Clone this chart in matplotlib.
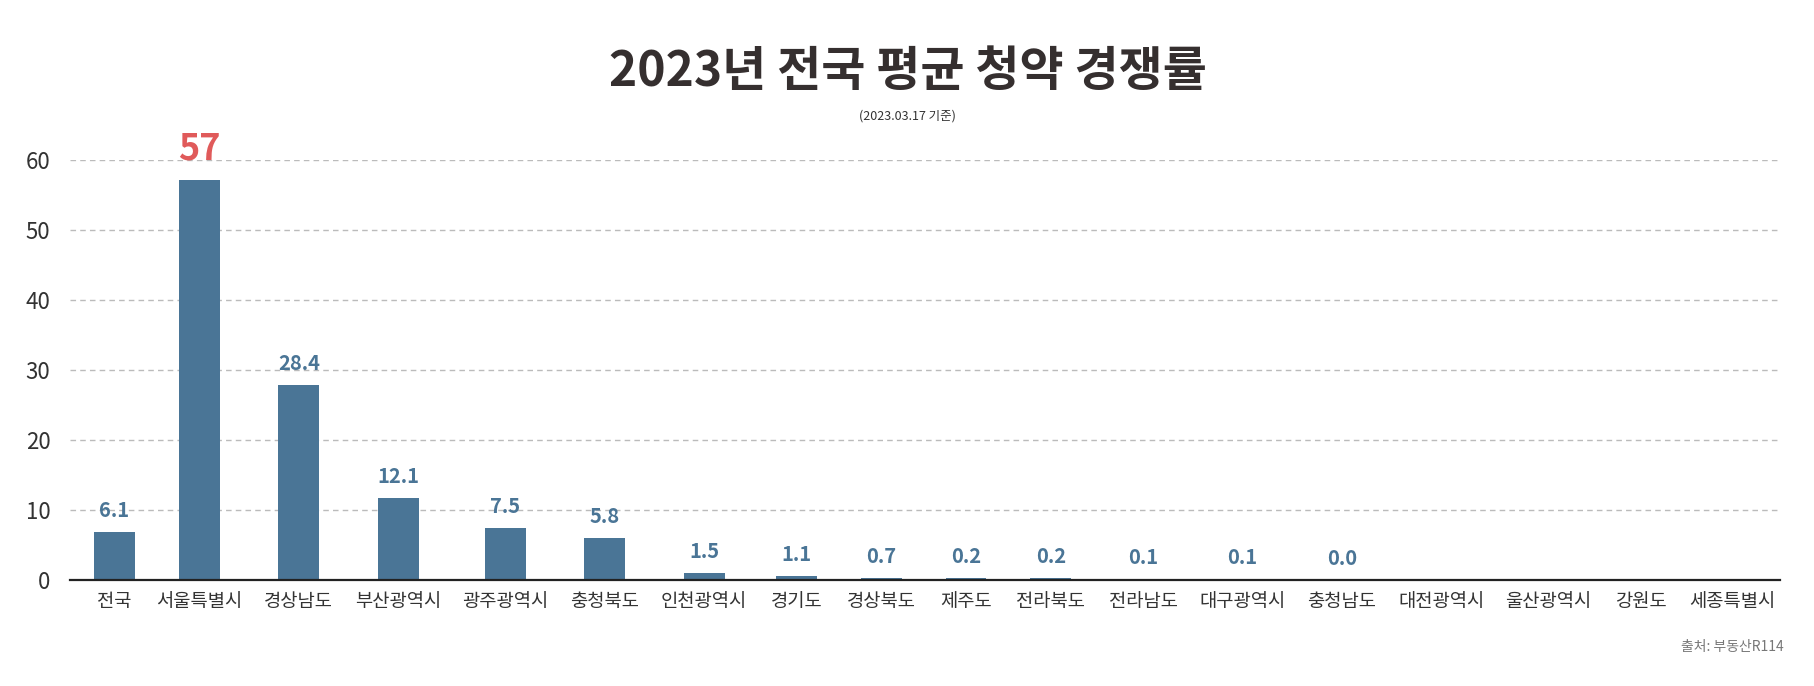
import matplotlib
matplotlib.use("Agg")
import matplotlib.pyplot as plt
import numpy as np

plt.rcParams['font.family'] = ['Noto Sans CJK KR', 'DejaVu Sans']

regions = ["전국", "서울특별시", "경상남도", "부산광역시", "광주광역시", "충청북도",
           "인천광역시", "경기도", "경상북도", "제주도", "전라북도", "전라남도",
           "대구광역시", "충청남도", "대전광역시", "울산광역시", "강원도", "세종특별시"]
bar_heights = [6.9, 57.2, 27.9, 11.7, 7.4, 6.0, 1.0, 0.55, 0.3, 0.3, 0.3, 0.15,
               0.1, 0.0, 0.0, 0.0, 0.0, 0.0]
value_labels = ["6.1", "57", "28.4", "12.1", "7.5", "5.8", "1.5", "1.1", "0.7",
                "0.2", "0.2", "0.1", "0.1", "0.0", "", "", "", ""]
highlight = "서울특별시"
y_ticks = [0, 10, 20, 30, 40, 50, 60]

title = "2023년 전국 평균 청약 경쟁률"
subtitle = "(2023.03.17 기준)"
source = "출처: 부동산R114"

BAR = "#4a7596"
RED = "#e05a5a"
TXT = "#333333"

# category positions: labels laid out with equal gaps (width ~ character count)
gap = 2.28
lens = np.array([len(r) for r in regions], dtype=float)
pos = np.concatenate([[0.0], np.cumsum(gap + (lens[:-1] + lens[1:]) / 2)])

fig = plt.figure(figsize=(18.15, 6.86), dpi=100)
ax = fig.add_axes([70 / 1815, 1 - 580 / 686, 1710 / 1815, 420 / 686])

ax.bar(pos, bar_heights, width=2.79, color=BAR, zorder=3)
ax.set_xlim(pos[0] - 3.03, pos[-1] + 3.22)
ax.set_ylim(0, 60)

ax.set_yticks(y_ticks)
ax.set_yticklabels([str(t) for t in y_ticks], fontsize=16, color=TXT,
                   fontweight='light')
ax.tick_params(axis='y', length=0, pad=14)
ax.set_xticks(pos)
ax.set_xticklabels(regions, fontsize=13.5, color=TXT)
ax.tick_params(axis='x', length=0, pad=8)

for s in ["top", "right", "left"]:
    ax.spines[s].set_visible(False)
ax.spines["bottom"].set_color("#222222")
ax.spines["bottom"].set_linewidth(1.6)
ax.spines["bottom"].set_zorder(4)

ax.yaxis.grid(True, linestyle=(0, (4, 3)), color="#bbbbbb", linewidth=1, zorder=0)
ax.set_axisbelow(True)

for x, h, lab, name in zip(pos, bar_heights, value_labels, regions):
    if not lab:
        continue
    if name == highlight:
        ax.annotate(lab, (x, h), xytext=(0, 9), textcoords="offset points",
                    ha="center", va="bottom", fontsize=26, fontweight="bold",
                    color=RED, annotation_clip=False)
    else:
        ax.annotate(lab, (x, h), xytext=(0, 8), textcoords="offset points",
                    ha="center", va="bottom", fontsize=14.5, fontweight="bold",
                    color=BAR, annotation_clip=False)

fig.text(0.5, 1 - 71 / 686, title, ha="center", va="center", fontsize=34.5,
         fontweight="black", color="#352f2f")
fig.text(0.5, 1 - 116 / 686, subtitle, ha="center", va="center", fontsize=9,
         color=TXT)
fig.text(1784 / 1815, 1 - 647 / 686, source, ha="right", va="center",
         fontsize=10, color="#777777")

fig.savefig("out.png", dpi=100, facecolor="white")
